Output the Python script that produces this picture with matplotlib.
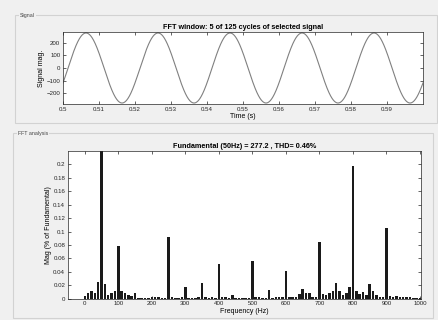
import numpy as np
import matplotlib.pyplot as plt
from matplotlib.patches import Rectangle

# ---- data ----
fund_hz = 50
fund_mag = 277.2
peak_time = 0.5064          # time of first positive peak in window
t_start, t_end = 0.5, 0.6

freqs = list(range(0, 1001, 10))
# magnitude in % of fundamental, one bar per 10 Hz bin (fundamental clipped)
mags = [
    0.004, 0.008, 0.011, 0.009, 0.025, 100.0, 0.022, 0.005, 0.009, 0.011,   # 0-90
    0.078, 0.011, 0.008, 0.005, 0.004, 0.009, 0.001, 0.001, 0.001, 0.001,   # 100-190
    0.003, 0.003, 0.003, 0.001, 0.001, 0.092, 0.002, 0.001, 0.001, 0.002,   # 200-290
    0.018, 0.001, 0.001, 0.001, 0.002, 0.023, 0.002, 0.001, 0.002, 0.001,   # 300-390
    0.052, 0.002, 0.002, 0.001, 0.005, 0.001, 0.001, 0.001, 0.001, 0.001,   # 400-490
    0.056, 0.002, 0.002, 0.001, 0.001, 0.013, 0.001, 0.002, 0.003, 0.002,   # 500-590
    0.042, 0.002, 0.002, 0.003, 0.007, 0.014, 0.008, 0.008, 0.003, 0.003,   # 600-690
    0.085, 0.007, 0.005, 0.008, 0.012, 0.024, 0.011, 0.006, 0.009, 0.018,   # 700-790
    0.198, 0.012, 0.007, 0.010, 0.006, 0.022, 0.012, 0.006, 0.002, 0.002,   # 800-890
    0.106, 0.004, 0.003, 0.004, 0.002, 0.003, 0.003, 0.002, 0.001, 0.001,   # 900-990
    0.001,                                                                  # 1000
]

bg = "#f0f0f0"
W, H = 438, 320

plt.rcParams["font.family"] = ["Liberation Sans", "DejaVu Sans"]
fig = plt.figure(figsize=(W / 100, H / 100), dpi=100, facecolor=bg)


def px_rect(x0, y0, x1, y1):
    return [x0 / W, 1 - y1 / H, (x1 - x0) / W, (y1 - y0) / H]


# ---- panel frames ----
for (x0, y0, x1, y1, label) in [(15, 15, 437, 123, "Signal"),
                                 (13, 133, 433, 318, "FFT analysis")]:
    l, b, w, h = px_rect(x0, y0, x1, y1)
    fig.add_artist(Rectangle((l, b), w, h, transform=fig.transFigure,
                             fill=False, edgecolor="#d2d2d2", lw=0.8))
    fig.text((x0 + 5) / W, 1 - y0 / H, label, fontsize=3.8, color="#444444",
             va="center", ha="left",
             bbox=dict(facecolor=bg, edgecolor="none", pad=0.6))


def style_axes(ax):
    ax.tick_params(direction="in", length=2, width=0.5, labelsize=4.4,
                   top=True, right=True, pad=2, colors="#262626")
    for s in ax.spines.values():
        s.set_linewidth(0.5)
        s.set_color("#262626")


# ---- time signal ----
ax1 = fig.add_axes(px_rect(63, 32, 423, 104))
t = np.linspace(t_start, t_end, 2000)
sig = fund_mag * np.cos(2 * np.pi * fund_hz * (t - peak_time))
ax1.plot(t, sig, color="#808080", lw=0.8)
ax1.set_xlim(t_start, t_end)
ax1.set_ylim(-285, 285)
ax1.set_xticks(np.arange(0.5, 0.595, 0.01))
ax1.set_xticklabels(["0.5"] + ["%.2f" % v for v in np.arange(0.51, 0.595, 0.01)])
ax1.set_yticks([-200, -100, 0, 100, 200])
ax1.set_title("FFT window: 5 of 125 cycles of selected signal",
              fontsize=5.2, fontweight="bold", pad=2.5)
ax1.set_xlabel("Time (s)", fontsize=5, labelpad=1)
ax1.set_ylabel("Signal mag.", fontsize=5, labelpad=1)
style_axes(ax1)

# ---- FFT bars ----
ax2 = fig.add_axes(px_rect(68, 151, 421, 298.7))
ax2.bar(freqs, mags, width=7.5, color="#1a1a1a", edgecolor="none")
ax2.set_xlim(-50, 1003)
ax2.set_ylim(0, 0.22)
ax2.set_xticks(range(0, 1001, 100))
ax2.set_yticks(np.arange(0, 0.201, 0.02))
ax2.set_yticklabels(["0"] + ["%g" % round(v, 2) for v in np.arange(0.02, 0.201, 0.02)])
ax2.set_title("Fundamental (50Hz) = 277.2 , THD= 0.46%",
              fontsize=5.2, fontweight="bold", pad=2.5)
ax2.set_xlabel("Frequency (Hz)", fontsize=5, labelpad=1)
ax2.set_ylabel("Mag (% of Fundamental)", fontsize=5, labelpad=1)
style_axes(ax2)

fig.savefig("out.png", dpi=100, facecolor=bg)
